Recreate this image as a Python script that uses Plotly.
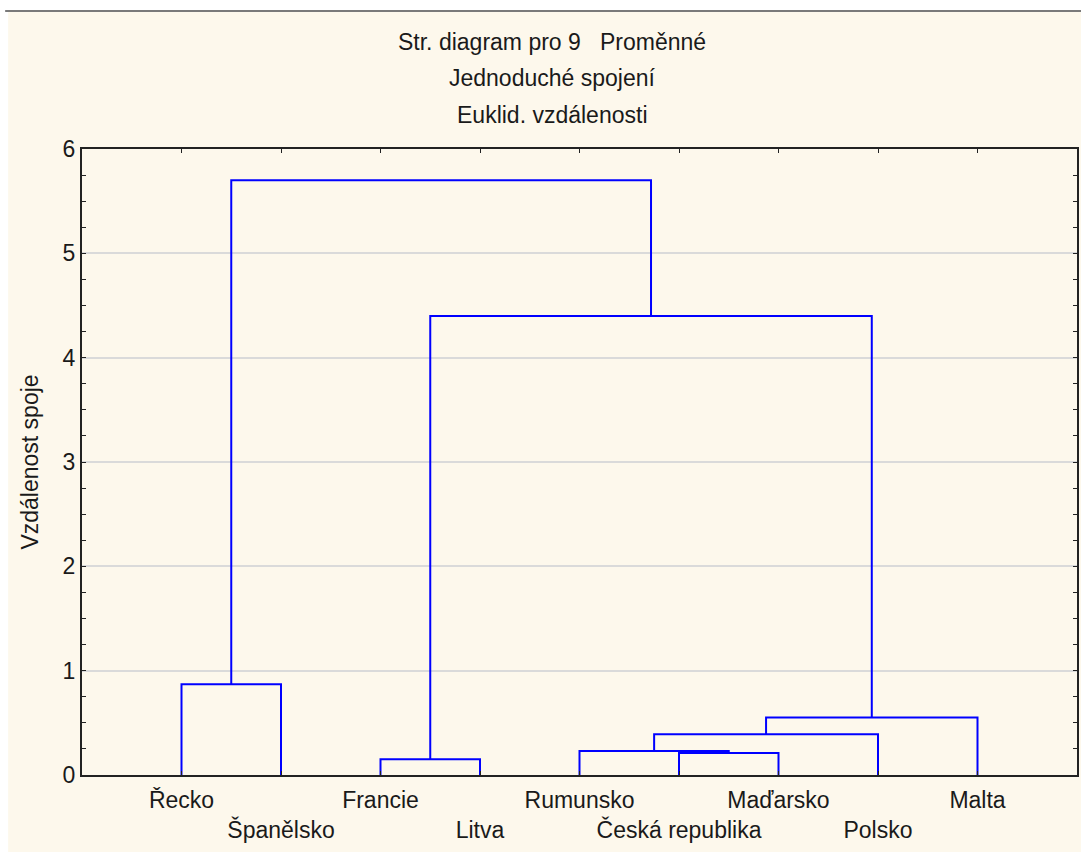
import plotly.graph_objects as go

# Leaves in dendrogram order
labels = ["Řecko", "Španělsko", "Francie", "Litva", "Rumunsko",
          "Česká republika", "Maďarsko", "Polsko", "Malta"]

# Single-linkage merges: ids 0..8 are leaves, merge k creates cluster 9+k
merge_left = [5, 2, 4, 11, 12, 0, 10, 14]
merge_right = [6, 3, 9, 7, 8, 1, 13, 15]
merge_height = [0.21, 0.15, 0.23, 0.39, 0.55, 0.87, 4.40, 5.70]

title_lines = ["Str. diagram pro 9   Proměnné", "Jednoduché spojení", "Euklid. vzdálenosti"]
y_title = "Vzdálenost spoje"

FONT = "Liberation Sans, Arial, sans-serif"
CREAM = "#FDF8EC"
TEXT = "#1a1a1a"
FS = 23

# position / height of each node
pos = {i: float(i + 1) for i in range(len(labels))}
hgt = {i: 0.0 for i in range(len(labels))}
xs, ys = [], []
for k, (a, b, h) in enumerate(zip(merge_left, merge_right, merge_height)):
    xa, xb = pos[a], pos[b]
    xs += [xa, xa, xb, xb, None]
    ys += [hgt[a], h, h, hgt[b], None]
    node = len(labels) + k
    pos[node] = (xa + xb) / 2
    hgt[node] = h

fig = go.Figure()
fig.add_trace(go.Scatter(x=xs, y=ys, mode="lines",
                         line=dict(color="#0000FF", width=2),
                         hoverinfo="skip", showlegend=False))

ticktext = [t if i % 2 == 0 else "<br>" + t for i, t in enumerate(labels)]

W, H = 1081, 852
L, R, T, B = 82, 2, 149, 77
pw, ph = W - L - R, H - T - B


def px_x(p):
    return (p - L) / pw


def px_y(p):
    return (H - B - p) / ph


shapes = [
    dict(type="rect", xref="paper", yref="paper", layer="below",
         x0=px_x(8), x1=px_x(W + 2), y0=px_y(H + 2), y1=px_y(11),
         fillcolor=CREAM, line=dict(width=0)),
    dict(type="line", xref="paper", yref="paper", layer="above",
         x0=px_x(5), x1=px_x(W + 2), y0=px_y(11), y1=px_y(11),
         line=dict(color="#7a7a7a", width=2)),
]

annotations = []
for txt, yp in zip(title_lines, [42, 78, 115]):
    annotations.append(dict(text=txt, xref="paper", yref="paper",
                            x=px_x(553), y=px_y(yp), xanchor="center", yanchor="middle",
                            showarrow=False, font=dict(family=FONT, size=FS, color=TEXT)))

fig.update_layout(
    width=W, height=H,
    margin=dict(l=L, r=R, t=T, b=B, pad=0),
    paper_bgcolor="white",
    plot_bgcolor="white",
    font=dict(family=FONT, color=TEXT),
    shapes=shapes,
    annotations=annotations,
    showlegend=False,
)

fig.update_xaxes(
    range=[0, 10], tickmode="array", tickvals=list(range(1, 10)), ticktext=ticktext,
    tickfont=dict(family=FONT, size=FS, color=TEXT), tickangle=0, ticklabelstandoff=3,
    ticks="inside", ticklen=4, tickcolor="#222", tickwidth=1,
    showline=True, linecolor="#222", linewidth=2, mirror="ticks",
    showgrid=False, zeroline=False, fixedrange=True,
)
fig.update_yaxes(
    range=[0, 6], tickmode="linear", tick0=0, dtick=1,
    tickfont=dict(family=FONT, size=FS, color=TEXT),
    ticks="inside", ticklen=4, tickcolor="#222", tickwidth=1,
    minor=dict(dtick=0.25, ticks="inside", ticklen=4, tickcolor="#222", showgrid=False),
    showline=True, linecolor="#222", linewidth=2, mirror="ticks",
    showgrid=True, gridcolor="#DADADA", gridwidth=2, zeroline=False,
    title=dict(text=y_title, font=dict(family=FONT, size=FS, color=TEXT), standoff=18),
    fixedrange=True,
)

fig.write_html("out.html")
